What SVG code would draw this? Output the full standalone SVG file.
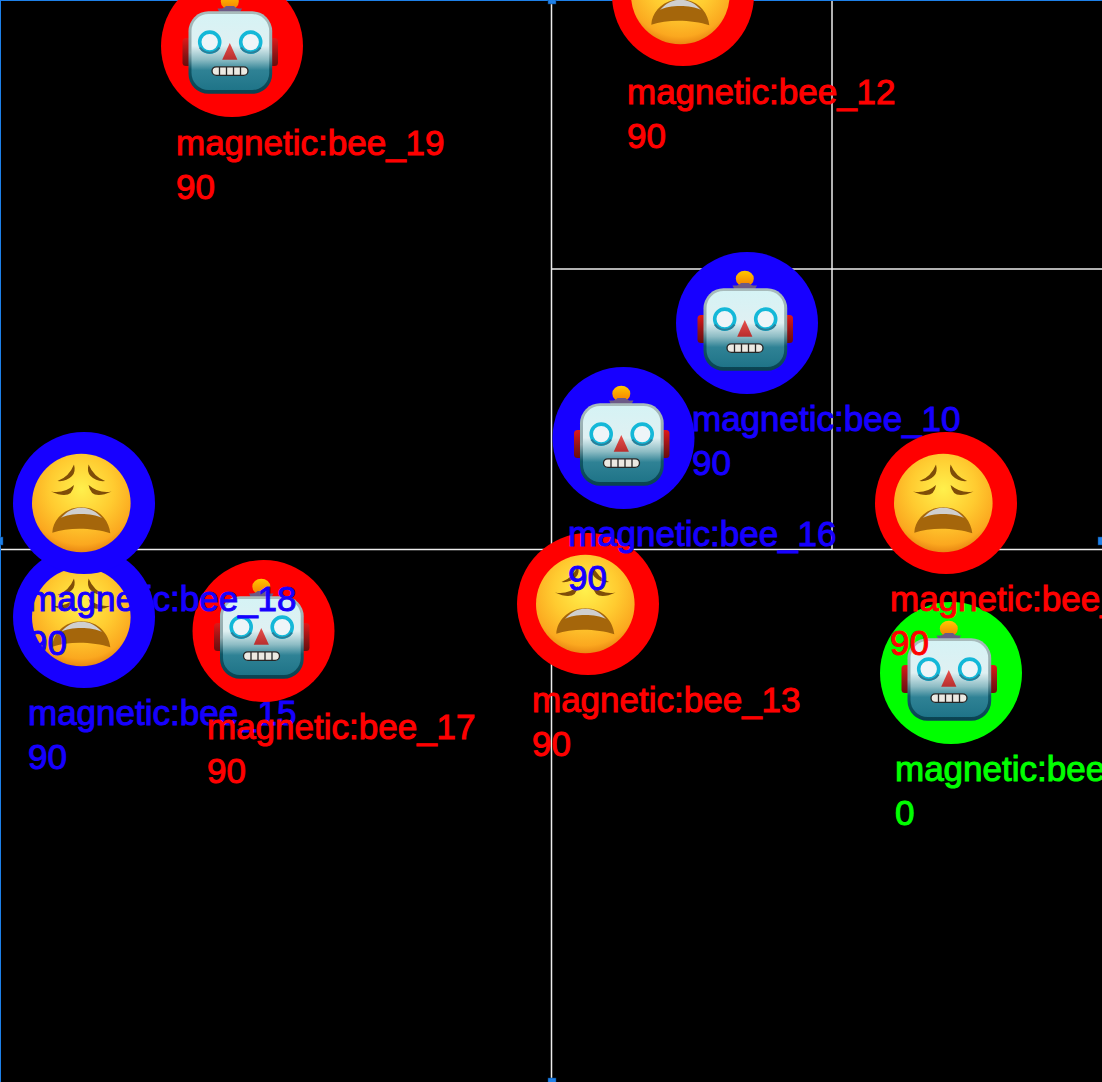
<svg xmlns="http://www.w3.org/2000/svg" width="1102" height="1082" viewBox="0 0 1102 1082">
<style>
text{font-family:"Liberation Sans",Arial,sans-serif;font-size:35px;stroke-width:1px}
.r{fill:#ff0000}.b{fill:#1700ff}.g{fill:#00ff00}
text.r{stroke:#ff0000}text.b{stroke:#1700ff}text.g{stroke:#00ff00}
.grid{stroke:#ececec;stroke-width:1.5;fill:none}
.h{fill:#1e80e8;stroke:#0b3d78;stroke-width:.5}
</style>
<defs>
<radialGradient id="fg" cx="50%" cy="36%" r="66%"><stop offset="0" stop-color="#fff04c"/><stop offset=".5" stop-color="#ffcb30"/><stop offset=".85" stop-color="#fba81f"/><stop offset="1" stop-color="#e57f10"/></radialGradient>
<linearGradient id="hd" x1="0" y1="0" x2="0" y2="1"><stop offset="0" stop-color="#d5f3f5"/><stop offset=".42" stop-color="#e0f0f2"/><stop offset=".6" stop-color="#8dbcc4"/><stop offset=".74" stop-color="#2f8295"/><stop offset="1" stop-color="#1f7488"/></linearGradient>
<linearGradient id="rim" x1="0" y1="0" x2="0" y2="1"><stop offset="0" stop-color="#a9bcbc"/><stop offset=".5" stop-color="#8fa9ad"/><stop offset=".7" stop-color="#0f5666"/><stop offset="1" stop-color="#0a4250"/></linearGradient>
<linearGradient id="ear" x1="0" y1="0" x2="0" y2="1"><stop offset="0" stop-color="#e01818"/><stop offset=".6" stop-color="#8e1414"/><stop offset="1" stop-color="#6a0c0c"/></linearGradient>
<linearGradient id="ball" x1="0" y1="0" x2="0" y2="1"><stop offset="0" stop-color="#ffc800"/><stop offset="1" stop-color="#f57c00"/></linearGradient>
<linearGradient id="nose" x1="0" y1="0" x2="0" y2="1"><stop offset="0" stop-color="#e8504c"/><stop offset="1" stop-color="#b82e2e"/></linearGradient>
<g id="robot">
<rect x="-49.500" y="-8" width="9" height="28" rx="3.500" fill="url(#ear)"/>
<rect x="37" y="-8" width="9" height="28" rx="3.500" fill="url(#ear)"/>
<ellipse cx="-2.200" cy="-44.300" rx="9" ry="7.900" fill="url(#ball)"/>
<path d="M-14.500-37.500Q-8-37-6-40H2Q4-37 10-37.500Q6-28-2.200-27.500Q-11-28-14.500-37.500Z" fill="#6c5a86"/>
<rect x="-43.500" y="-34.700" width="83.700" height="82.500" rx="20" fill="url(#rim)"/>
<rect x="-40.500" y="-32" width="77.700" height="76" rx="17" fill="url(#hd)"/>
<circle cx="-22.300" cy="-3.900" r="10" fill="#eef5f8" stroke="#14b8d8" stroke-width="3.600"/>
<circle cx="18.700" cy="-3.900" r="10" fill="#eef5f8" stroke="#14b8d8" stroke-width="3.600"/>
<path d="M-32.100 1.500A11.800 11.800 0 0 0-12.500 1.500M8.900 1.500A11.800 11.800 0 0 0 28.500 1.500" fill="none" stroke="#2a7f99" stroke-width="2.200"/>
<path d="M-2.200-3L-9.800 13.700H5.400Z" fill="url(#nose)"/>
<rect x="-20" y="20.800" width="36" height="8.600" rx="4.300" fill="#ece9e2" stroke="#262626" stroke-width="1.300"/>
<path d="M-12.500 21v8.300M-5.500 21v8.300M1.500 21v8.300M8.500 21v8.300" stroke="#262626" stroke-width="1.300"/>
</g>
<g id="face">
<circle cx="-2.700" cy="0" r="49.300" fill="url(#fg)"/>
<path d="M-31.700 29.700C-31 17-20 4.300-2.700 4.300S25 17 26.300 30.300C10 25-15 24-31.700 29.700Z" fill="#a5660b"/>
<path d="M-23 15C-16 7-9 4.800-2.700 4.800S11 7 18 15C8 9.800-14 9.800-23 15Z" fill="#cfcfcf"/>
<path d="M-33-11.500Q-20-9-10-18Q-12-2-33-11.500ZM27.600-11.500Q15-9 4.600-18Q7-2 27.600-11.500ZM-26.500-22Q-15-26-10-38.500Q-8-31-12-27Q-18-21-26.500-22ZM21.100-22Q10-26 4.600-38.500Q2.600-31 6.600-27Q12.600-21 21.100-22Z" fill="#7f4d08"/>
</g>
</defs>
<rect width="1102" height="1082" fill="#000"/>
<g id="connectors" class="grid">
<path d="M0 549.500H1102M551.500 0V1082M832 0V549.500M551.500 269H1102"/>
</g>
<g id="frame">
<path d="M0 .5H1102M.5 0V1082" stroke="#1e80e8" stroke-width="1" fill="none"/>
<rect class="h" x="548" y="-1" width="8" height="5"/>
<rect class="h" x="548" y="1078" width="8" height="5"/>
<rect class="h" x="-3" y="537" width="6" height="8"/>
<rect class="h" x="1098" y="537" width="6" height="8"/>
</g>
<g id="bee_19"><circle class="r" cx="232" cy="46" r="71"/><use href="#robot" x="232" y="46"/><text class="r" x="176" y="155">magnetic:bee_19</text><text class="r" x="176" y="199">90</text></g>
<g id="bee_12"><circle class="r" cx="683" cy="-5" r="71"/><use href="#face" x="683" y="-5"/><text class="r" x="627" y="104">magnetic:bee_12</text><text class="r" x="627" y="148">90</text></g>
<g id="bee_13"><circle class="r" cx="588" cy="604" r="71"/><use href="#face" x="588" y="604"/><text class="r" x="532" y="712">magnetic:bee_13</text><text class="r" x="532" y="756">90</text></g>
<g id="bee_10"><circle class="b" cx="747" cy="323" r="71"/><use href="#robot" x="747" y="323"/><text class="b" x="692" y="431">magnetic:bee_10</text><text class="b" x="692" y="475">90</text></g>
<g id="bee_16"><circle class="b" cx="623.500" cy="438" r="71"/><use href="#robot" x="623.500" y="438"/><text class="b" x="568" y="546">magnetic:bee_16</text><text class="b" x="568" y="590">90</text></g>
<g id="bee_green"><circle class="g" cx="951" cy="673" r="71"/><use href="#robot" x="951" y="673"/><text class="g" x="895" y="781">magnetic:bee</text><text class="g" x="895" y="825">0</text></g>
<g id="bee_red"><circle class="r" cx="946" cy="503" r="71"/><use href="#face" x="946" y="503"/><text class="r" x="890" y="611">magnetic:bee_</text><text class="r" x="890" y="655">90</text></g>
<g id="bee_15"><circle class="b" cx="84" cy="617" r="71"/><use href="#face" x="84" y="617"/><text class="b" x="28" y="725">magnetic:bee_15</text><text class="b" x="28" y="769">90</text></g>
<g id="bee_17"><circle class="r" cx="263.500" cy="631" r="71"/><use href="#robot" x="263.500" y="631"/><text class="r" x="207" y="739">magnetic:bee_17</text><text class="r" x="207" y="783">90</text></g>
<g id="bee_18"><circle class="b" cx="84" cy="503" r="71"/><use href="#face" x="84" y="503"/><text class="b" x="28" y="611">magnetic:bee_18</text><text class="b" x="28" y="655">90</text></g>
</svg>
